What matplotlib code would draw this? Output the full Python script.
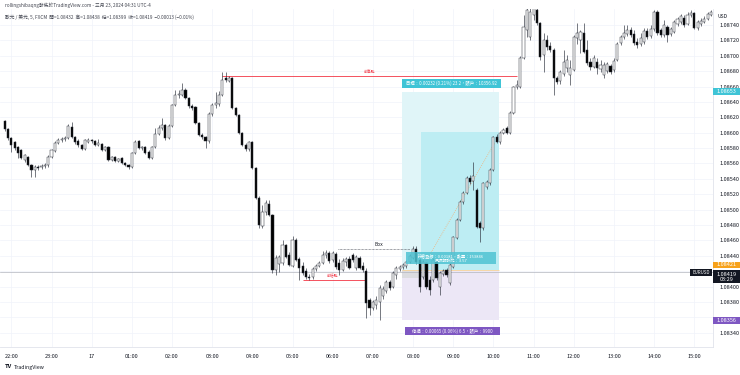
import numpy as np
import matplotlib as mpl
mpl.use('Agg')
import matplotlib.pyplot as plt
from matplotlib.patches import Rectangle
from matplotlib.transforms import blended_transform_factory

plt.rcParams['font.family'] = ['Noto Sans CJK TC', 'DejaVu Sans']

# EURUSD 5 min candles, 21:50 -> 15:25
opens = [
    1.08615, 1.08605, 1.08593, 1.08588, 1.08581, 1.08578, 1.08565, 1.08568, 1.08558, 1.08552,
    1.08555, 1.08555, 1.08557, 1.08558, 1.08568, 1.08576, 1.08587, 1.08591, 1.08592, 1.08593,
    1.08607, 1.08594, 1.08589, 1.08584, 1.08579, 1.08588, 1.08591, 1.08589, 1.08584, 1.08585,
    1.08578, 1.08581, 1.08565, 1.08568, 1.08563, 1.08567, 1.08561, 1.08558, 1.08555, 1.08574,
    1.08589, 1.08580, 1.08581, 1.08575, 1.08567, 1.08581, 1.08598, 1.08606, 1.08610, 1.08593,
    1.08609, 1.08636, 1.08649, 1.08649, 1.08656, 1.08645, 1.08635, 1.08633, 1.08613, 1.08597,
    1.08594, 1.08589, 1.08624, 1.08636, 1.08637, 1.08649, 1.08671, 1.08667, 1.08671, 1.08632,
    1.08623, 1.08600, 1.08584, 1.08579, 1.08588, 1.08554, 1.08515, 1.08479, 1.08497, 1.08507,
    1.08493, 1.08422, 1.08429, 1.08431, 1.08454, 1.08441, 1.08427, 1.08461, 1.08436, 1.08427,
    1.08420, 1.08412, 1.08412, 1.08423, 1.08427, 1.08431, 1.08441, 1.08444, 1.08435, 1.08442,
    1.08431, 1.08422, 1.08432, 1.08436, 1.08441, 1.08424, 1.08437, 1.08427, 1.08420, 1.08383,
    1.08372, 1.08376, 1.08380, 1.08388, 1.08394, 1.08406, 1.08399, 1.08415, 1.08423, 1.08425,
    1.08427, 1.08432, 1.08437, 1.08449, 1.08435, 1.08412, 1.08431, 1.08409, 1.08409, 1.08432,
    1.08399, 1.08416, 1.08422, 1.08405, 1.08425, 1.08463, 1.08487, 1.08510, 1.08522, 1.08541,
    1.08537, 1.08526, 1.08483, 1.08476, 1.08529, 1.08535, 1.08552, 1.08594, 1.08588, 1.08600,
    1.08606, 1.08600, 1.08626, 1.08659, 1.08659, 1.08697, 1.08734, 1.08724, 1.08753, 1.08760,
    1.08743, 1.08701, 1.08721, 1.08713, 1.08708, 1.08671, 1.08667, 1.08676, 1.08684, 1.08675,
    1.08682, 1.08723, 1.08721, 1.08730, 1.08708, 1.08692, 1.08685, 1.08692, 1.08683, 1.08675,
    1.08680, 1.08687, 1.08682, 1.08695, 1.08717, 1.08724, 1.08728, 1.08734, 1.08728, 1.08718,
    1.08715, 1.08718, 1.08732, 1.08726, 1.08735, 1.08757, 1.08734, 1.08727, 1.08737, 1.08728,
    1.08731, 1.08741, 1.08744, 1.08749, 1.08741, 1.08753, 1.08756, 1.08736, 1.08741, 1.08744,
    1.08748, 1.08753,
]
highs = [
    1.08617, 1.08606, 1.08594, 1.08589, 1.08583, 1.08579, 1.08572, 1.08570, 1.08559, 1.08558,
    1.08558, 1.08559, 1.08561, 1.08571, 1.08579, 1.08589, 1.08593, 1.08594, 1.08596, 1.08611,
    1.08614, 1.08596, 1.08592, 1.08585, 1.08592, 1.08593, 1.08592, 1.08591, 1.08592, 1.08587,
    1.08583, 1.08583, 1.08570, 1.08570, 1.08567, 1.08568, 1.08562, 1.08559, 1.08575, 1.08591,
    1.08591, 1.08583, 1.08583, 1.08578, 1.08583, 1.08606, 1.08610, 1.08619, 1.08611, 1.08611,
    1.08637, 1.08656, 1.08656, 1.08665, 1.08658, 1.08646, 1.08637, 1.08635, 1.08614, 1.08600,
    1.08596, 1.08627, 1.08639, 1.08653, 1.08654, 1.08679, 1.08679, 1.08674, 1.08672, 1.08633,
    1.08624, 1.08601, 1.08587, 1.08589, 1.08589, 1.08555, 1.08518, 1.08506, 1.08513, 1.08513,
    1.08494, 1.08441, 1.08441, 1.08461, 1.08455, 1.08445, 1.08466, 1.08463, 1.08438, 1.08432,
    1.08424, 1.08416, 1.08425, 1.08429, 1.08433, 1.08446, 1.08448, 1.08446, 1.08446, 1.08445,
    1.08436, 1.08437, 1.08438, 1.08440, 1.08444, 1.08441, 1.08440, 1.08432, 1.08424, 1.08385,
    1.08383, 1.08388, 1.08402, 1.08401, 1.08409, 1.08409, 1.08420, 1.08427, 1.08428, 1.08431,
    1.08435, 1.08442, 1.08453, 1.08453, 1.08437, 1.08435, 1.08432, 1.08414, 1.08437, 1.08435,
    1.08420, 1.08423, 1.08424, 1.08431, 1.08466, 1.08489, 1.08513, 1.08524, 1.08544, 1.08545,
    1.08562, 1.08528, 1.08485, 1.08536, 1.08539, 1.08554, 1.08596, 1.08598, 1.08602, 1.08606,
    1.08609, 1.08628, 1.08661, 1.08669, 1.08700, 1.08753, 1.08766, 1.08766, 1.08770, 1.08766,
    1.08744, 1.08730, 1.08727, 1.08718, 1.08710, 1.08674, 1.08682, 1.08708, 1.08701, 1.08695,
    1.08727, 1.08743, 1.08734, 1.08743, 1.08721, 1.08697, 1.08701, 1.08697, 1.08695, 1.08692,
    1.08692, 1.08689, 1.08697, 1.08718, 1.08727, 1.08740, 1.08740, 1.08737, 1.08734, 1.08723,
    1.08730, 1.08736, 1.08736, 1.08740, 1.08760, 1.08760, 1.08736, 1.08747, 1.08740, 1.08737,
    1.08747, 1.08750, 1.08754, 1.08753, 1.08757, 1.08760, 1.08757, 1.08747, 1.08749, 1.08752,
    1.08757, 1.08760,
]
lows = [
    1.08602, 1.08591, 1.08575, 1.08578, 1.08567, 1.08566, 1.08562, 1.08557, 1.08542, 1.08542,
    1.08552, 1.08553, 1.08554, 1.08555, 1.08567, 1.08575, 1.08585, 1.08588, 1.08589, 1.08592,
    1.08593, 1.08585, 1.08581, 1.08578, 1.08578, 1.08587, 1.08587, 1.08583, 1.08583, 1.08576,
    1.08576, 1.08563, 1.08563, 1.08562, 1.08562, 1.08559, 1.08557, 1.08553, 1.08554, 1.08572,
    1.08579, 1.08578, 1.08572, 1.08566, 1.08566, 1.08580, 1.08597, 1.08604, 1.08591, 1.08592,
    1.08607, 1.08635, 1.08645, 1.08648, 1.08644, 1.08632, 1.08630, 1.08611, 1.08596, 1.08592,
    1.08580, 1.08587, 1.08622, 1.08632, 1.08635, 1.08648, 1.08666, 1.08666, 1.08631, 1.08622,
    1.08598, 1.08583, 1.08576, 1.08576, 1.08553, 1.08514, 1.08476, 1.08476, 1.08493, 1.08492,
    1.08418, 1.08415, 1.08419, 1.08428, 1.08437, 1.08427, 1.08425, 1.08433, 1.08409, 1.08415,
    1.08410, 1.08409, 1.08410, 1.08420, 1.08425, 1.08429, 1.08437, 1.08431, 1.08432, 1.08423,
    1.08415, 1.08420, 1.08427, 1.08423, 1.08432, 1.08422, 1.08423, 1.08419, 1.08359, 1.08363,
    1.08370, 1.08371, 1.08357, 1.08384, 1.08392, 1.08396, 1.08398, 1.08410, 1.08420, 1.08423,
    1.08424, 1.08431, 1.08436, 1.08429, 1.08393, 1.08410, 1.08397, 1.08389, 1.08406, 1.08409,
    1.08389, 1.08414, 1.08412, 1.08402, 1.08424, 1.08462, 1.08485, 1.08507, 1.08520, 1.08533,
    1.08526, 1.08476, 1.08458, 1.08474, 1.08527, 1.08532, 1.08550, 1.08587, 1.08585, 1.08598,
    1.08598, 1.08598, 1.08624, 1.08657, 1.08658, 1.08696, 1.08724, 1.08721, 1.08747, 1.08740,
    1.08695, 1.08679, 1.08708, 1.08705, 1.08649, 1.08663, 1.08663, 1.08674, 1.08679, 1.08662,
    1.08680, 1.08715, 1.08704, 1.08704, 1.08688, 1.08682, 1.08684, 1.08676, 1.08679, 1.08671,
    1.08678, 1.08676, 1.08679, 1.08693, 1.08714, 1.08722, 1.08726, 1.08724, 1.08714, 1.08710,
    1.08713, 1.08715, 1.08722, 1.08723, 1.08732, 1.08727, 1.08724, 1.08724, 1.08718, 1.08726,
    1.08730, 1.08739, 1.08741, 1.08737, 1.08740, 1.08750, 1.08735, 1.08734, 1.08739, 1.08743,
    1.08747, 1.08752,
]
closes = [
    1.08605, 1.08593, 1.08584, 1.08580, 1.08574, 1.08567, 1.08571, 1.08558, 1.08552, 1.08555,
    1.08554, 1.08557, 1.08558, 1.08568, 1.08578, 1.08587, 1.08591, 1.08592, 1.08593, 1.08609,
    1.08594, 1.08588, 1.08584, 1.08579, 1.08591, 1.08591, 1.08589, 1.08584, 1.08587, 1.08578,
    1.08581, 1.08565, 1.08568, 1.08563, 1.08566, 1.08561, 1.08558, 1.08555, 1.08574, 1.08588,
    1.08580, 1.08581, 1.08574, 1.08567, 1.08581, 1.08598, 1.08606, 1.08610, 1.08593, 1.08609,
    1.08636, 1.08649, 1.08650, 1.08656, 1.08645, 1.08635, 1.08632, 1.08613, 1.08597, 1.08594,
    1.08589, 1.08624, 1.08636, 1.08639, 1.08649, 1.08669, 1.08669, 1.08671, 1.08632, 1.08623,
    1.08600, 1.08584, 1.08579, 1.08588, 1.08554, 1.08515, 1.08480, 1.08497, 1.08509, 1.08493,
    1.08422, 1.08437, 1.08438, 1.08454, 1.08438, 1.08428, 1.08461, 1.08435, 1.08424, 1.08418,
    1.08412, 1.08411, 1.08423, 1.08427, 1.08431, 1.08441, 1.08444, 1.08433, 1.08444, 1.08425,
    1.08422, 1.08433, 1.08436, 1.08424, 1.08435, 1.08438, 1.08424, 1.08422, 1.08379, 1.08372,
    1.08380, 1.08383, 1.08398, 1.08397, 1.08406, 1.08398, 1.08418, 1.08424, 1.08425, 1.08428,
    1.08432, 1.08440, 1.08449, 1.08432, 1.08399, 1.08432, 1.08399, 1.08396, 1.08435, 1.08411,
    1.08418, 1.08420, 1.08415, 1.08428, 1.08464, 1.08487, 1.08510, 1.08522, 1.08541, 1.08536,
    1.08544, 1.08477, 1.08476, 1.08535, 1.08536, 1.08552, 1.08594, 1.08588, 1.08600, 1.08604,
    1.08600, 1.08626, 1.08659, 1.08662, 1.08697, 1.08737, 1.08760, 1.08757, 1.08762, 1.08743,
    1.08698, 1.08721, 1.08711, 1.08708, 1.08671, 1.08666, 1.08679, 1.08692, 1.08695, 1.08684,
    1.08724, 1.08730, 1.08731, 1.08705, 1.08691, 1.08685, 1.08697, 1.08684, 1.08688, 1.08688,
    1.08689, 1.08679, 1.08693, 1.08715, 1.08724, 1.08730, 1.08734, 1.08727, 1.08717, 1.08714,
    1.08723, 1.08732, 1.08724, 1.08735, 1.08757, 1.08730, 1.08727, 1.08740, 1.08727, 1.08735,
    1.08744, 1.08748, 1.08752, 1.08740, 1.08753, 1.08756, 1.08736, 1.08744, 1.08745, 1.08748,
    1.08754, 1.08757,
]

hour_labels = ['22:00', '23:00', '17', '01:00', '02:00', '03:00', '04:00', '05:00', '06:00',
               '07:00', '08:00', '09:00', '10:00', '11:00', '12:00', '13:00', '14:00', '15:00']
price_ticks = [1.08340, 1.08360, 1.08380, 1.08400, 1.08420, 1.08440, 1.08460, 1.08480, 1.08500,
               1.08520, 1.08540, 1.08560, 1.08580, 1.08600, 1.08620, 1.08640, 1.08660, 1.08680,
               1.08700, 1.08720, 1.08740]
hidden_ticks = [1.08360, 1.08420]   # covered by the badges on the price scale

# long position tool
entry = 1.08421
target = 1.08653
stop = 1.08356
reached = 1.08601
last_price = 1.08419
prev_high = 1.08674
prev_low = 1.08409
box_level = 1.08449

o = np.array(opens); h = np.array(highs); l = np.array(lows); c = np.array(closes)
x = np.arange(len(c))
hour_pos = np.arange(len(hour_labels)) * 12 + 2

fig = plt.figure(figsize=(7.4, 3.75), dpi=100)
ax = fig.add_axes([0, 28 / 375, 713 / 740, 338 / 375])
ax.set_xlim(-1.4, 211.6)
ax.set_ylim(1.083214, 1.087608)

grid_c = '#f0f3fa'
for p in price_ticks:
    ax.axhline(p, color=grid_c, lw=0.5, zorder=0)
for hp in hour_pos:
    ax.axvline(hp, color=grid_c, lw=0.5, zorder=0)

# position tool areas
x0, x1 = 118.8, 147.8
ax.add_patch(Rectangle((x0, entry), x1 - x0, target - entry, fc='#e0f5f8', ec='none', zorder=0.5))
ax.add_patch(Rectangle((124.3, entry), x1 - 124.3, reached - entry, fc='#bdedf3', ec='none', zorder=0.6))
ax.add_patch(Rectangle((x0, stop), x1 - x0, entry - stop, fc='#ece7f6', ec='none', zorder=0.5))
ax.add_patch(Rectangle((x0, 1.08411), 5.5, entry - 1.08411, fc='#dcdce0', ec='none', zorder=0.7))
ax.hlines(entry, x0, x1, color='#f8d49a', lw=0.6, zorder=0.8)
ax.plot([124.3, 146.4], [entry, 1.08587], color='#f0b27a', lw=0.6, ls=(0, (1, 1.5)), zorder=0.9)

# last price line
ax.axhline(last_price, color='#b2b5be', lw=0.5, zorder=1)

# drawn levels
ax.hlines(prev_high, 65, 153, color='#f23645', lw=0.6, zorder=1)
ax.text(109, prev_high + 0.00002, '前高點', color='#f23645', fontsize=2.8, ha='center', va='bottom')
ax.hlines(prev_low, 89, 107.6, color='#f23645', lw=0.6, zorder=1)
ax.text(98, prev_low + 0.00002, '前低點', color='#f23645', fontsize=2.8, ha='center', va='bottom')
ax.hlines(box_level, 99.5, 121, color='#434651', lw=0.5, ls=(0, (1, 1)), zorder=1)
ax.text(111.7, box_level + 0.00002, 'Box', color='#131722', fontsize=3.5, ha='center', va='bottom')

# candles
up = c >= o
body_lo = np.minimum(o, c)
body_h = np.maximum(np.abs(c - o), 0.000012)
ax.vlines(x, l, h, color='#2a2e39', lw=0.45, zorder=2)
ax.bar(x, body_h, bottom=body_lo, width=0.64,
       color=np.where(up, 'white', 'black'), edgecolor='#2a2e39', linewidth=0.35, zorder=3)

# position labels
ax.add_patch(Rectangle((x0, 1.08658), 148.4 - x0, 0.00012, fc='#3fc4d6', ec='none', zorder=5))
ax.text((x0 + 148.4) / 2, 1.08664, '目標：0.00232 (0.21%) 23.2，賬戶：10356.92', color='white',
        fontsize=3.2, ha='center', va='center', zorder=6)
ax.add_patch(Rectangle((119.5, 1.08337), 28.4, 0.00010, fc='#7e57c2', ec='none', zorder=5))
ax.text(133.7, 1.08342, '停損：0.00065 (0.06%) 6.5，賬戶：9900', color='white',
        fontsize=3.2, ha='center', va='center', zorder=6)
ax.add_patch(Rectangle((119.8, 1.08429), 27.1, 0.00016, fc='#4fc3d3', ec='none', alpha=0.85, zorder=5))
ax.text(133.3, 1.08437, '持倉盈虧：0.00181，數量：153846\n風險報酬比：3.57', color='white',
        fontsize=3.0, ha='center', va='center', linespacing=1.1, zorder=6)

# axes styling
for s in ['top', 'left']:
    ax.spines[s].set_visible(False)
for s in ['right', 'bottom']:
    ax.spines[s].set_color('#e0e3eb')
    ax.spines[s].set_linewidth(0.6)
ax.set_xticks(hour_pos)
ax.set_xticklabels(hour_labels)
ax.yaxis.tick_right()
ax.set_yticks(price_ticks)
ax.set_yticklabels(['' if p in hidden_ticks else '%.5f' % p for p in price_ticks])
ax.tick_params(axis='x', length=0, pad=5, labelsize=4, labelcolor='#131722')
ax.tick_params(axis='y', length=0, pad=5, labelsize=4, labelcolor='#131722')

# price axis badges
tr = blended_transform_factory(ax.transAxes, ax.transData)
def badge(price, text, fc, hgt=0.00009, y_txt=None):
    ax.add_patch(Rectangle((1.0, price - hgt / 2), 0.038, hgt, fc=fc, ec='none',
                           transform=tr, clip_on=False, zorder=6))
    ax.text(1.019, price if y_txt is None else y_txt, text, color='white', fontsize=4,
            ha='center', va='center', transform=tr, clip_on=False, zorder=7, linespacing=1.0)

badge(target, '%.5f' % target, '#3fc4d6')
badge(1.08428, '%.5f' % entry, '#f7a21b')
badge(1.08413, '%.5f\n03:29' % last_price, '#131722', hgt=0.00017)
badge(stop, '%.5f' % stop, '#7e57c2')
ax.add_patch(Rectangle((0.968, 1.08414), 0.031, 0.00009, fc='#131722', ec='none',
                       transform=tr, clip_on=False, zorder=6))
ax.text(0.9835, 1.084185, 'EURUSD', color='white', fontsize=3.2, ha='center', va='center',
        transform=tr, zorder=7)
fig.text(718 / 740, 1 - 17 / 375, 'USD', fontsize=3.6, color='#131722', va='center')

# header
fig.text(5 / 740, 1 - 5 / 375, 'rollingshibaqng發佈於TradingView.com - 三月 23, 2024 04:31 UTC-4',
         fontsize=3.4, color='#434651', va='center')
fig.text(5 / 740, 1 - 17 / 375,
         '歐元 / 美元, 5, FXCM  開=1.08432  高=1.08438  低=1.08399  收=1.08419  −0.00013 (−0.01%)',
         fontsize=3.4, color='#434651', va='center')

# footer
fig.text(5 / 740, 1 - 367 / 375, 'TV', fontsize=4.2, weight='bold', color='#131722', va='center')
fig.text(14 / 740, 1 - 367 / 375, 'TradingView', fontsize=3.8, color='#131722', va='center')

fig.savefig('out.png', dpi=100, facecolor='white')
